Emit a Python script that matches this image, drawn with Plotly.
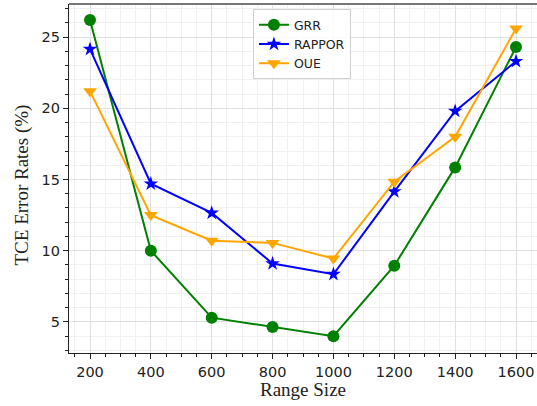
import plotly.graph_objects as go

range_sizes = [200, 400, 600, 800, 1000, 1200, 1400, 1600]
grr = [26.2, 10.0, 5.3, 4.65, 4.0, 8.95, 15.85, 24.3]
rappor = [24.15, 14.7, 12.65, 9.1, 8.35, 14.15, 19.8, 23.3]
oue = [21.2, 12.5, 10.7, 10.55, 9.45, 14.85, 18.0, 25.6]
x_ticks = [200, 400, 600, 800, 1000, 1200, 1400, 1600]
y_ticks = [5, 10, 15, 20, 25]

fig = go.Figure()
fig.add_trace(go.Scatter(x=range_sizes, y=grr, name="GRR", mode="lines+markers",
                         line=dict(color="green", width=2),
                         marker=dict(symbol="circle", size=12, color="green")))
fig.add_trace(go.Scatter(x=range_sizes, y=rappor, name="RAPPOR", mode="lines+markers",
                         line=dict(color="blue", width=2),
                         marker=dict(symbol="star", size=11, color="blue")))
fig.add_trace(go.Scatter(x=range_sizes, y=oue, name="OUE", mode="lines+markers",
                         line=dict(color="orange", width=2),
                         marker=dict(symbol="triangle-down", size=12, color="orange")))

axis_font = dict(family="DejaVu Sans", size=14.5, color="#222")
title_font = dict(family="Liberation Serif", size=19, color="#222")
fig.update_layout(
    width=537, height=406,
    margin=dict(l=69, r=0, t=4, b=53, autoexpand=False),
    paper_bgcolor="white", plot_bgcolor="white",
    showlegend=True,
    legend=dict(x=0.393, y=0.985, xanchor="left", yanchor="top",
                bgcolor="rgba(255,255,255,0.85)", bordercolor="#d0d0d0", borderwidth=1,
                font=dict(family="DejaVu Sans", size=12.5, color="#222"),
                tracegroupgap=0, itemwidth=30),
)
fig.update_xaxes(
    range=[131, 1669], tickvals=x_ticks, ticks="outside", ticklen=5, tickwidth=1,
    tickcolor="#222", tickfont=axis_font, automargin=False,
    showline=True, linecolor="#222", linewidth=1.2,
    showgrid=True, gridcolor="#e0e0e0", gridwidth=1, zeroline=False,
    minor=dict(dtick=50, tick0=0, ticks="outside", ticklen=3, tickcolor="#222",
               showgrid=True, gridcolor="#f0f0f0"),
)
fig.update_yaxes(
    range=[2.82, 27.32], tickvals=y_ticks, ticks="outside", ticklen=5, tickwidth=1,
    tickcolor="#222", tickfont=axis_font, automargin=False,
    showline=True, linecolor="#222", linewidth=1.2,
    showgrid=True, gridcolor="#e0e0e0", gridwidth=1, zeroline=False,
    minor=dict(dtick=1, tick0=0, ticks="outside", ticklen=3, tickcolor="#222",
               showgrid=True, gridcolor="#f0f0f0"),
)
fig.add_annotation(text="Range Size", xref="paper", yref="paper", x=0.5, y=-0.106,
                   xanchor="center", yanchor="middle", showarrow=False, font=title_font)
fig.add_annotation(text="TCE Error Rates (%)", xref="paper", yref="paper", x=-0.1004, y=0.48,
                   xanchor="center", yanchor="middle", showarrow=False, textangle=-90,
                   font=title_font)
fig.add_shape(type="line", xref="paper", yref="paper", x0=0, x1=1, y0=1, y1=1,
              line=dict(color="#777", width=2))
fig.write_html("out.html", config={"displayModeBar": False},
               post_script="document.body.style.margin='0';document.body.style.padding='0';document.body.style.overflow='hidden';")
